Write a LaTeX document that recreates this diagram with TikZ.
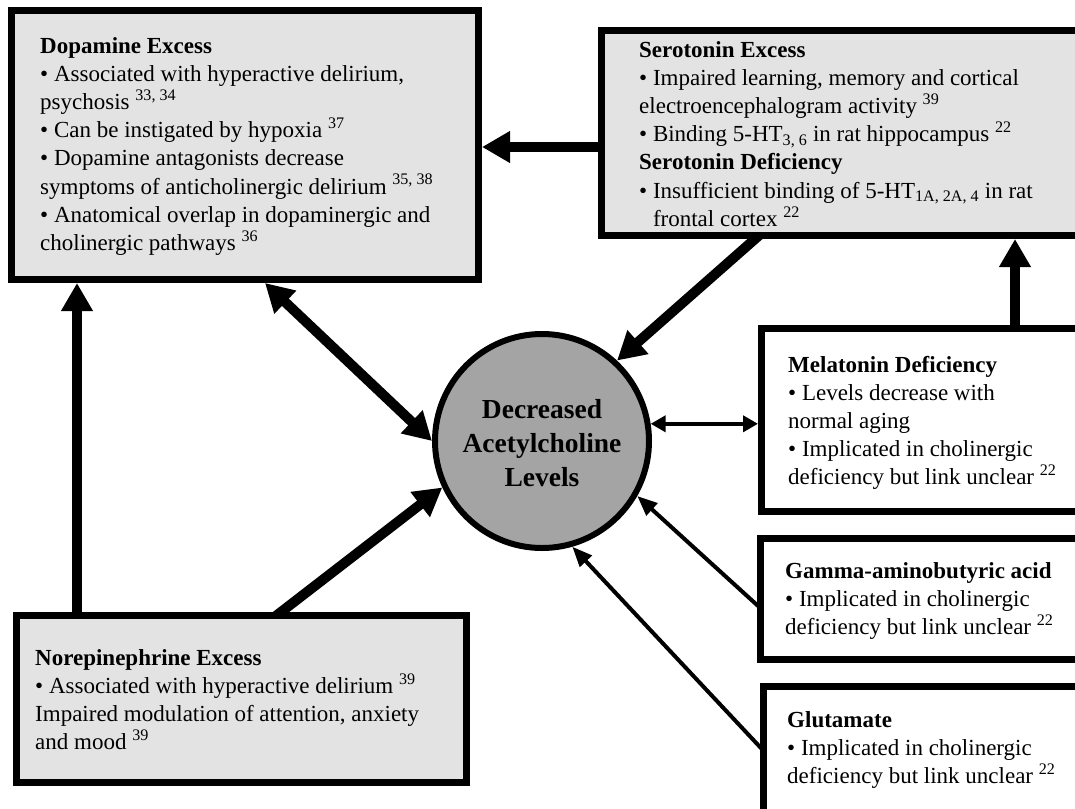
\documentclass[tikz,border=0pt]{standalone}
\usepackage{fontspec}
\setmainfont{Liberation Serif}
\usetikzlibrary{arrows.meta,calc}
\pgfdeclarelayer{bg}
\pgfsetlayers{bg,main}
\definecolor{boxgray}{HTML}{E3E3E3}
\definecolor{achgray}{HTML}{A4A4A4}
\begin{document}
\begin{tikzpicture}[x=1pt,y=-1pt,
  box/.style={draw=black,line width=7pt,rectangle,inner sep=0pt},
  graybox/.style={box,fill=boxgray},
  whitebox/.style={box,fill=white},
  txt/.style={anchor=base west,align=left,inner sep=0pt,font=\fontsize{23}{28.2}\selectfont},
  bigarrow/.style={line width=10pt,-{Triangle[length=28pt,width=30pt]}},
  bigdouble/.style={line width=10pt,{Triangle[length=28pt,width=30pt]}-{Triangle[length=28pt,width=30pt]}},
  thinarrow/.style={line width=4pt,-{Triangle[length=20pt,width=16pt]}},
  thindouble/.style={line width=4pt,{Triangle[length=15pt,width=16pt]}-{Triangle[length=15pt,width=16pt]}}
]
\useasboundingbox (0,0) rectangle (1075,808);

% boxes
\node[graybox,minimum width=467pt,minimum height=269pt] (dop) at (245,145) {};
\node[graybox,minimum width=495pt,minimum height=205pt] (ser) at (849,133) {};
\node[whitebox,minimum width=335pt,minimum height=183pt] (mel) at (929,420) {};
\node[whitebox,minimum width=336pt,minimum height=121pt] (gaba) at (928.5,599) {};
\node[whitebox,minimum width=333pt,minimum height=160pt] (glu) at (930,766.5) {};
\node[graybox,minimum width=450pt,minimum height=167pt] (ne) at (241.5,699) {};
\node[circle,draw=black,line width=6pt,fill=achgray,minimum size=214pt,inner sep=0pt] (ach) at (542,441) {};
\node[anchor=base,align=center,inner sep=0pt,font=\fontsize{27.5}{34}\selectfont\bfseries] (achtxt) at (542,486)
      {Decreased\\Acetylcholine\\Levels};

% texts (anchored at the baseline of the last line)
\node[txt] (doptxt) at (40,250.4) {\textbf{Dopamine Excess}\\
• Associated with hyperactive delirium,\\
psychosis \textsuperscript{33, 34}\\
• Can be instigated by hypoxia \textsuperscript{37}\\
• Dopamine antagonists decrease\\
symptoms of anticholinergic delirium \textsuperscript{35, 38}\\
• Anatomical overlap in dopaminergic and\\
cholinergic pathways \textsuperscript{36}};

\node[txt] (sertxt) at (639,226.2) {\textbf{Serotonin Excess}\\
• Impaired learning, memory and cortical\\
electroencephalogram activity \textsuperscript{39}\\
• Binding 5-HT\textsubscript{3, 6} in rat hippocampus \textsuperscript{22}\\
\textbf{Serotonin Deficiency}\\
• Insufficient binding of 5-HT\textsubscript{1A, 2A, 4} in rat\\
\hphantom{• }frontal cortex \textsuperscript{22}};

\node[txt] (meltxt) at (788,484.8) {\textbf{Melatonin Deficiency}\\
• Levels decrease with\\
normal aging\\
• Implicated in cholinergic\\
deficiency but link unclear \textsuperscript{22}};

\node[txt] (gabatxt) at (785,634.4) {\textbf{Gamma-aminobutyric acid}\\
• Implicated in cholinergic\\
deficiency but link unclear \textsuperscript{22}};

\node[txt] (glutxt) at (787,783.4) {\textbf{Glutamate}\\
• Implicated in cholinergic\\
deficiency but link unclear \textsuperscript{22}};

\node[txt] (netxt) at (35,749.6) {\textbf{Norepinephrine Excess}\\
• Associated with hyperactive delirium \textsuperscript{39}\\
Impaired modulation of attention, anxiety\\
and mood \textsuperscript{39}};

% connectors
\begin{pgfonlayer}{bg}
\draw[bigarrow] ([yshift=-14pt]ser.west) -- ([yshift=-14pt]ser.west -| dop.east);
\draw[bigarrow,shorten <=-10pt] ([xshift=157pt]ser.south west) -- (ach.47);
\draw[bigarrow] ([xshift=257pt]mel.north west) -- ([xshift=257pt]mel.north west |- ser.south);
\draw[thindouble] (ach.9) -- (ach.9 -| mel.west);
\draw[bigdouble] ([xshift=257pt]dop.south west) -- (ach.west);
\draw[bigarrow,shorten <=-10pt] ([xshift=268pt]ne.north west) -- (ach.205);
\draw[bigarrow] ([xshift=64pt]ne.north west) -- ([xshift=64pt]ne.north west |- dop.south);
\draw[thinarrow,shorten <=-6pt] ([yshift=-6pt]gaba.west) -- (ach.-30);
\draw[thinarrow,shorten <=-6pt] ([yshift=19.5pt]glu.west) -- (ach.-74);
\end{pgfonlayer}
\end{tikzpicture}
\end{document}
